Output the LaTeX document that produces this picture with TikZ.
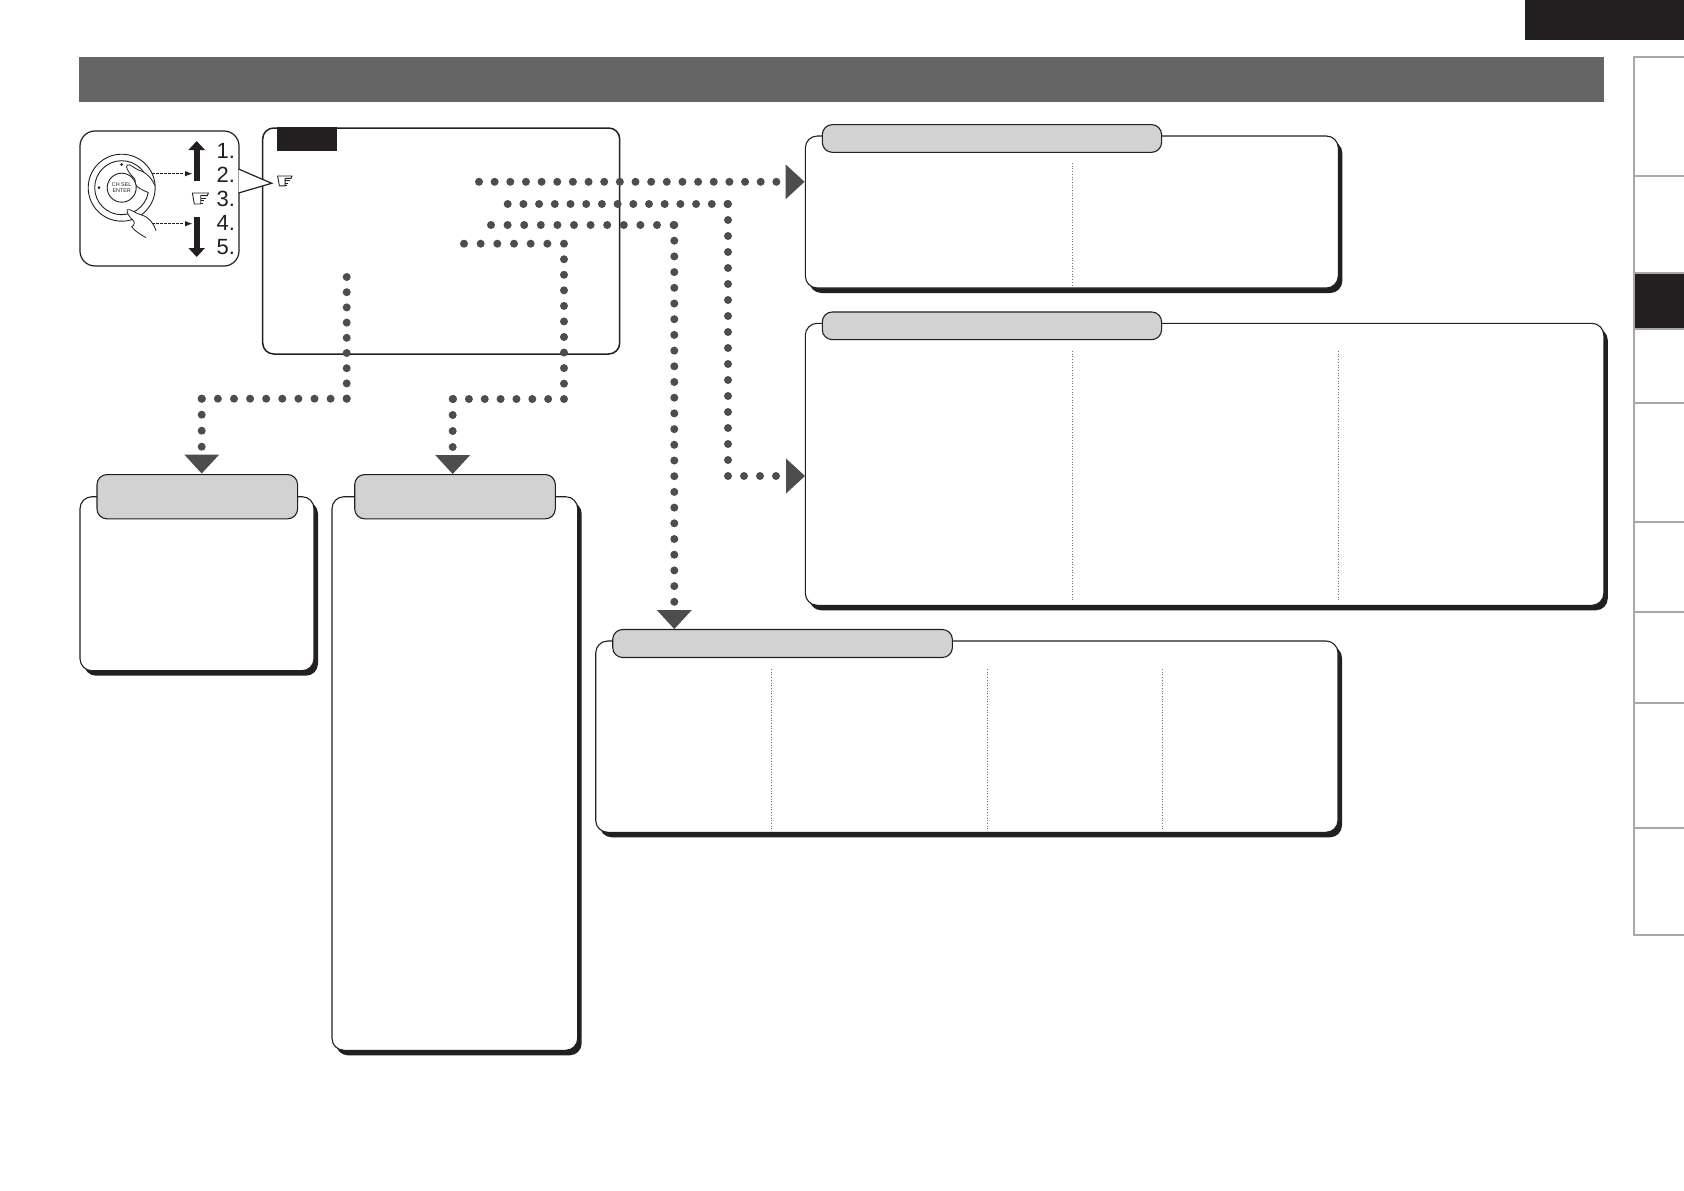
\documentclass[tikz,border=0pt]{standalone}
\usepackage{amsmath,amssymb,mathtools}
\usepackage{fontspec}
\setmainfont{Liberation Sans}
\usetikzlibrary{positioning,shapes.geometric,shadows,arrows.meta}

\definecolor{inkdark}{HTML}{231F20}
\definecolor{bargray}{HTML}{666565}
\definecolor{dotgray}{HTML}{4D4D4D}
\definecolor{tabgray}{HTML}{D2D2D2}
\definecolor{sidegray}{HTML}{A8A8A8}

\tikzset{
    blockbox/.style={rectangle, anchor=north west, fill=inkdark, inner sep=0, outer sep=0},
    sidetab/.style={rectangle, draw=sidegray, line width=1.2pt, minimum width=54, inner sep=0, outer sep=0},
    shadowbox/.style={rectangle, anchor=north west, rounded corners=12pt, draw=inkdark, fill=white, line width=1.1pt, inner sep=0, outer sep=0,
        drop shadow={shadow xshift=4pt, shadow yshift=-5pt, fill=inkdark, opacity=1}},
    headtab/.style={rectangle, anchor=west, rounded corners=10pt, draw=inkdark, fill=tabgray, line width=1.1pt, inner sep=0, outer sep=0, xshift=17, yshift=-2.5},
    framebox/.style={rectangle, anchor=north west, rounded corners=11pt, draw=inkdark, fill=white, line width=1.5pt, inner sep=0, outer sep=0},
    divider/.style={dotted, line width=0.7pt, draw=dotgray!80},
    dotline/.style={line width=8pt, line cap=round, draw=dotgray, dash pattern=on 0pt off #1pt},
    tipright/.style={isosceles triangle, isosceles triangle apex angle=85, isosceles triangle stretches, fill=dotgray, inner sep=0, outer sep=0, minimum width=35, minimum height=19, anchor=apex},
    tipdown/.style={tipright, rotate=-90},
    ring/.style={circle, draw=inkdark, fill=white, line width=0.9pt, inner sep=0},
    knobmark/.style={circle, fill=inkdark, inner sep=0, minimum size=3},
    numlabel/.style={anchor=west, inner sep=0, text=inkdark, font=\fontsize{22}{22}\selectfont},
    bigarrow/.style={line width=6pt, draw=inkdark, -{Triangle[length=9pt,width=16pt]}},
    minidash/.style={line width=1.5pt, draw=inkdark, dash pattern=on 2.8pt off 1.3pt, -{Latex[length=8pt,width=5.5pt]}},
    handline/.style={line width=0.8pt, draw=inkdark, fill=white},
    calloutline/.style={line width=1.2pt, draw=inkdark, fill=white},
    pointer/.pic={
        \draw[line width=0.9pt, draw=inkdark, line join=round] (8,33) -- (2,0) -- (50,0) -- (47,8) -- (27,8) -- (27,33) -- cycle;
        \draw[line width=0.8pt, draw=inkdark] (27,16) -- (42,16) (27,23) -- (38,23) (27,30) -- (34,30);
    }
}

\begin{document}
\begin{tikzpicture}[x=1pt, y=-1pt]
        \useasboundingbox (0,0) rectangle (1684,1191);

        \node[blockbox, minimum width=159, minimum height=40] (1) at (1525,0) {};
        \node[blockbox, fill=bargray, minimum width=1525, minimum height=45] (2) at (79,57) {};

        \node[sidetab, anchor=north west, minimum height=119] (3) at (1634,57) {};
        \node[sidetab, minimum height=97, below=0pt of 3] (4) {};
        \node[sidetab, fill=inkdark, minimum height=56, below=0pt of 4] (5) {};
        \node[sidetab, minimum height=74, below=0pt of 5] (6) {};
        \node[sidetab, minimum height=119, below=0pt of 6] (7) {};
        \node[sidetab, minimum height=90, below=0pt of 7] (8) {};
        \node[sidetab, minimum height=91, below=0pt of 8] (9) {};
        \node[sidetab, minimum height=125, below=0pt of 9] (10) {};
        \node[sidetab, minimum height=107, below=0pt of 10] (11) {};

        \node[framebox, minimum width=357, minimum height=226] (12) at (262.7,128) {};
        \node[blockbox, minimum width=60, minimum height=24] (13) at (277,127) {};

        \node[framebox, rounded corners=15pt, line width=1.2pt, minimum width=159, minimum height=135] (14) at (80,131) {};
        \draw[calloutline] (238.5,169) -- (271.7,183.3) -- (238.5,193);
        \pic[scale=0.3] at (277,176) {pointer};

        \node[ring, minimum size=67] (15) at (121.7,187.7) {};
        \node[ring, minimum size=54] (16) at (121.7,187.7) {};
        \node[knobmark, above=8.5pt of 16.center, yshift=13] (17) {};
        \node[knobmark, below=8.5pt of 16.center, yshift=-1] (18) {};
        \node[knobmark, left=21pt of 16.center] (19) {};

        \begin{scope}[shift={(70,115)}, x=0.3333pt, y=-0.3333pt]
            \draw[handline] (255,212) .. controls (245,190) and (230,172) .. (205,165) .. controls (190,158) and (180,146) .. (172,150) .. controls (165,155) and (175,170) .. (185,182) .. controls (192,186) and (198,195) .. (195,205) .. controls (200,220) and (220,225) .. (235,233);
            \draw[handline] (258,347) .. controls (250,325) and (240,308) .. (215,300) .. controls (195,295) and (180,280) .. (172,284) .. controls (168,292) and (178,305) .. (188,315) .. controls (195,320) and (195,330) .. (185,335) .. controls (195,350) and (212,358) .. (228,368);
        \end{scope}
        \node[ring, minimum size=29, align=center, text=inkdark, font=\fontsize{5.4}{6}\selectfont] (20) at (121.7,187.7) {CH SEL\\ENTER};

        \coordinate (h1) at (151.7,173.7);
        \coordinate (h2) at (193,173.7);
        \coordinate (h3) at (151.7,223.7);
        \coordinate (h4) at (193,223.7);
        \coordinate (u1) at (196.7,181);
        \coordinate (u2) at (196.7,141);
        \coordinate (u3) at (196.7,217);
        \coordinate (u4) at (196.7,257);
        \draw[bigarrow] (u1) -- (u2);
        \draw[bigarrow] (u3) -- (u4);
        \draw[minidash] (h1) -- (h2);
        \draw[minidash] (h3) -- (h4);
        \pic[scale=0.3333] at (191.7,193) {pointer};

        \node[numlabel] (21) at (216.5,151) {1.};
        \node[numlabel] (22) at ([yshift=-24]21.west) {2.};
        \node[numlabel] (23) at ([yshift=-24]22.west) {3.};
        \node[numlabel] (24) at ([yshift=-24]23.west) {4.};
        \node[numlabel] (25) at ([yshift=-24]24.west) {5.};

        \node[shadowbox, minimum width=533, minimum height=152] (26) at (805.3,136) {};
        \node[headtab, minimum width=339.3, minimum height=27.7] (27) at (26.north west) {};
        \node[shadowbox, minimum width=798.5, minimum height=282] (28) at (805.3,323.3) {};
        \node[headtab, minimum width=339.3, minimum height=27.7] (29) at (28.north west) {};
        \node[shadowbox, minimum width=742.3, minimum height=191.3] (30) at (595.7,641) {};
        \node[headtab, minimum width=339.7, minimum height=28] (31) at (30.north west) {};
        \node[shadowbox, minimum width=234, minimum height=174] (32) at (80,496.7) {};
        \node[headtab, minimum width=200.6, minimum height=44.3, yshift=2.5] (33) at (32.north west) {};
        \node[shadowbox, minimum width=245.7, minimum height=553.6] (34) at (332,496.7) {};
        \node[headtab, xshift=5.7, minimum width=200.6, minimum height=44.3, yshift=2.5] (35) at (34.north west) {};

        \draw[divider] (1072,163) -- (1072,287);
        \draw[divider] (1072,351) -- (1072,601);
        \draw[divider] (1338,351) -- (1338,601);
        \draw[divider] (771.3,669) -- (771.3,831);
        \draw[divider] (987,669) -- (987,831);
        \draw[divider] (1162.7,669) -- (1162.7,831);

        \node[tipright] (36) at (804.5,181.8) {};
        \node[tipright] (37) at (805,476) {};
        \node[tipdown] (38) at (674.3,629) {};
        \node[tipdown] (39) at (452.7,474) {};
        \node[tipdown] (40) at (201.7,473.5) {};

        \coordinate (d1) at (479,181.8);
        \coordinate (d2) at (507.7,204);
        \coordinate (d3) at (728,204);
        \coordinate (d4) at (728,476);
        \coordinate (d5) at (491,225);
        \coordinate (d6) at (674.3,225);
        \coordinate (d7) at (464,243.7);
        \coordinate (d8) at (564,243.7);
        \coordinate (d9) at (564,399);
        \coordinate (d10) at (452.7,399);
        \coordinate (d11) at (346.7,277);
        \coordinate (d12) at (346.7,398.7);
        \coordinate (d13) at (201.7,398.7);

        \draw[dotline=15.65] (d1) -- (36);
        \draw[dotline=15.7] (d2) -- (d3);
        \draw[dotline=16] (d3) -- (d4);
        \draw[dotline=16] (d4) -- (37);
        \draw[dotline=16.6] (d5) -- (d6);
        \draw[dotline=15.7] (d6) -- (38);
        \draw[dotline=16.67] (d7) -- (d8);
        \draw[dotline=15.55] (d8) -- (d9);
        \draw[dotline=15.85] (d9) -- (d10);
        \draw[dotline=16] (d10) -- (39);
        \draw[dotline=15.2] (d11) -- (d12);
        \draw[dotline=16.1] (d12) -- (d13);
        \draw[dotline=16] (d13) -- (40);
    \end{tikzpicture}
\end{document}
